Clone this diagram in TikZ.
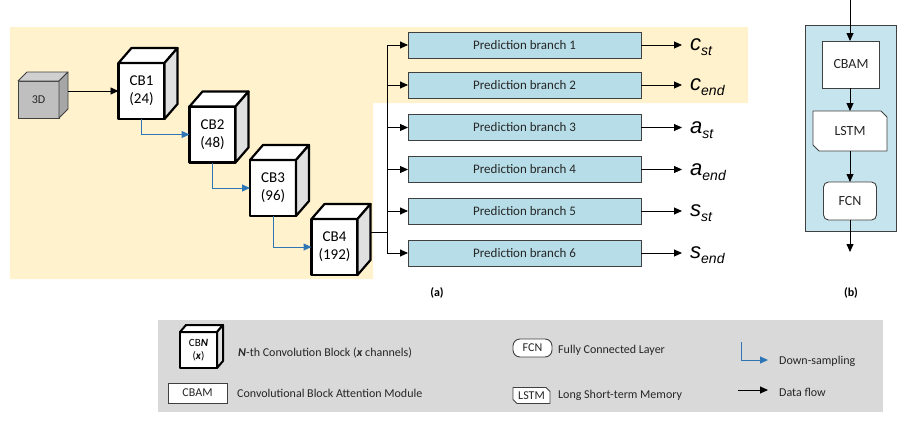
\documentclass[tikz,border=0pt]{standalone}
\usepackage{fontspec}
\setmainfont{Carlito}
\newfontfamily\arialf{Liberation Sans}
\usetikzlibrary{arrows.meta}
\definecolor{bgyellow}{HTML}{FFF2CC}
\definecolor{pbblue}{HTML}{B7DEE8}
\definecolor{panelblue}{HTML}{C6E4EE}
\definecolor{legendgray}{HTML}{D9D9D9}
\definecolor{dsblue}{HTML}{2E75B6}
\definecolor{edgegray}{HTML}{404040}
\definecolor{cubeside}{HTML}{E0E0E0}
\definecolor{graytop}{HTML}{D0D0D0}
\definecolor{grayfront}{HTML}{BFBFBF}
\definecolor{grayside}{HTML}{A6A6A6}
\definecolor{txtgray}{HTML}{262626}
% cube faces: #1 node, #2 dx, #3 dy (up), #4 style, #5 top fill, #6 side fill
\newcommand\cubefaces[6]{%
  \draw[#4,fill=#5] (#1.north west) -- ++(#2,-#3) -- ([shift={(#2,-#3)}]#1.north east) -- (#1.north east) -- cycle;
  \draw[#4,fill=#6] (#1.north east) -- ++(#2,-#3) -- ([shift={(#2,-#3)}]#1.south east) -- (#1.south east) -- cycle;}
% outline with cut corners (top right, bottom left): #1 node, #2 cut size
\newcommand\cutoutline[2]{%
  \draw[draw=edgegray,line width=0.9pt,fill=white,line join=round]
    (#1.north west) -- ([xshift=-#2]#1.north east) -- ([yshift=-#2]#1.north east) -- (#1.south east)
    -- ([xshift=#2]#1.south west) -- ([yshift=#2]#1.south west) -- cycle;}
\newcommand\lsub[1]{\raisebox{-5pt}{\fontsize{14}{14}\selectfont #1}}
\begin{document}
\begin{tikzpicture}[x=1pt,y=-1pt,
  cbbox/.style={draw=black,line width=2.2pt,fill=white,minimum width=46pt,minimum height=56pt,
    inner sep=0pt,outer sep=0pt,align=center,font=\fontsize{15}{18}\selectfont,line join=round},
  cbedge/.style={draw=black,line width=2.2pt,line join=round},
  graycube/.style={draw=edgegray,line width=0.8pt,fill=grayfront,minimum width=41pt,minimum height=37pt,
    inner sep=0pt,outer sep=0pt,font=\fontsize{12}{14}\selectfont,text=txtgray},
  grayedge/.style={draw=edgegray,line width=0.8pt,line join=round},
  pbbox/.style={draw=edgegray,line width=1pt,fill=pbblue,minimum width=233pt,minimum height=26pt,
    inner sep=0pt,outer sep=0pt,font=\fontsize{13}{15}\selectfont,text=txtgray},
  flow/.style={draw=black,line width=0.9pt,-{Triangle[length=8pt,width=7pt]}},
  dsflow/.style={draw=dsblue,line width=1pt,-{Triangle[length=8pt,width=7pt]}},
  outlab/.style={anchor=base west,inner xsep=8pt,inner ysep=0pt,font=\arialf\itshape\fontsize{22}{22}\selectfont},
  whitebox/.style={draw=edgegray,line width=0.9pt,fill=white,inner sep=0pt,outer sep=0pt,text=txtgray},
  cutbox/.style={inner sep=0pt,outer sep=0pt,text=txtgray},
  captxt/.style={font=\bfseries\fontsize{12}{14}\selectfont},
  legtext/.style={anchor=west,inner sep=0pt,font=\fontsize{12}{14}\selectfont,text=txtgray},
]
\useasboundingbox (0,0) rectangle (907,426);
% background regions
\fill[bgyellow] (10,27) -- (748,27) -- (748,103) -- (373,103) -- (373,279) -- (10,279) -- cycle;
\fill[legendgray] (158,320) rectangle (883,412);

% input cube
\node[graycube] (in3d) at (38.5,99.5) {3D};
\cubefaces{in3d}{9}{9}{grayedge}{graytop}{grayside}

% convolution blocks
\node[cbbox] (cb1) at (141.5,91) {CB1\\(24)};
\cubefaces{cb1}{13}{15}{cbedge}{white}{cubeside}
\node[cbbox] (cb2) at (212.5,134.5) {CB2\\(48)};
\cubefaces{cb2}{13}{15}{cbedge}{white}{cubeside}
\node[cbbox] (cb3) at (273,188) {CB3\\(96)};
\cubefaces{cb3}{13}{15}{cbedge}{white}{cubeside}
\node[cbbox] (cb4) at (334.5,247) {CB4\\(192)};
\cubefaces{cb4}{13}{15}{cbedge}{white}{cubeside}

\draw[flow] ([xshift=9pt]in3d.east |- cb1.west) -- (cb1.west);
\draw[dsflow] (cb1.south) |- (cb2.west);
\draw[dsflow] (cb2.south) |- (cb3.west);
\draw[dsflow] (cb3.south) |- (cb4.west);

% prediction branches
\node[pbbox] (pb1) at (524.5,45) {Prediction branch 1};
\node[pbbox] (pb2) at (524.5,85) {Prediction branch 2};
\node[pbbox] (pb3) at (524.5,127.5) {Prediction branch 3};
\node[pbbox] (pb4) at (524.5,169.5) {Prediction branch 4};
\node[pbbox] (pb5) at (524.5,211) {Prediction branch 5};
\node[pbbox] (pb6) at (524.5,253) {Prediction branch 6};

\coordinate (jn) at (387,232);
\draw[line width=0.9pt] ([shift={(13,-15)}]cb4.east) -- (jn);
\foreach \i in {1,...,6}{\draw[flow] (jn) |- (pb\i.west);}

\node[outlab] (o1) at (682,50.5) {c\lsub{st}};
\node[outlab] (o2) at (682,90.5) {c\lsub{end}};
\node[outlab] (o3) at (682,133) {a\lsub{st}};
\node[outlab] (o4) at (682,175) {a\lsub{end}};
\node[outlab] (o5) at (682,216.5) {s\lsub{st}};
\node[outlab] (o6) at (682,258.5) {s\lsub{end}};
\foreach \i in {1,...,6}{\draw[flow] (pb\i.east) -- (pb\i.east -| o\i.west);}

\node[captxt] (capa) at (437,293) {(a)};

% panel (b)
\node[draw=edgegray,line width=0.9pt,fill=panelblue,minimum width=91pt,minimum height=206pt,inner sep=0pt] (panel) at (850.5,128) {};
\node[whitebox,minimum width=57pt,minimum height=47pt,font=\fontsize{14}{16}\selectfont] (cbam) at (851,64.5) {CBAM};
\node[cutbox,minimum width=74pt,minimum height=40pt] (lstm) at (850,131) {};
\cutoutline{lstm}{6pt}
\node[text=txtgray,font=\fontsize{14}{16}\selectfont] at (lstm) {LSTM};
\node[whitebox,rounded corners=5pt,minimum width=53pt,minimum height=38pt,font=\fontsize{14}{16}\selectfont] (fcn) at (850,201) {FCN};
\coordinate (bin) at (850,0);
\coordinate (bout) at (850,252);
\draw[flow] (bin) -- (bin |- cbam.north);
\draw[flow] (cbam.south -| lstm.north) -- (lstm.north);
\draw[flow] (lstm.south) -- (fcn.north);
\draw[flow] (fcn.south) -- (bout);
\node[captxt] (capb) at (851,293) {(b)};

% legend
\node[cbbox,minimum width=37pt,minimum height=36pt,line width=2pt,font=\fontsize{11}{13}\selectfont] (lcb) at (198.5,350) {CB\textbf{\textit{N}}\\(\textbf{\textit{x}})};
\cubefaces{lcb}{6}{7}{cbedge,line width=2pt}{white}{cubeside}
\node[legtext] (tcb) at (238,353) {\textbf{\textit{N}}-th Convolution Block (\textbf{\textit{x}} channels)};
\node[whitebox,minimum width=59pt,minimum height=20pt,font=\fontsize{12}{14}\selectfont] (lcbam) at (197.5,393) {CBAM};
\node[legtext] (tcbam) at (237,393) {Convolutional Block Attention Module};
\node[whitebox,rounded corners=7pt,minimum width=39pt,minimum height=18pt,font=\fontsize{12}{14}\selectfont] (lfcn) at (532.5,348) {FCN};
\node[legtext] (tfcn) at (558,350) {Fully Connected Layer};
\node[cutbox,minimum width=37pt,minimum height=16pt] (llstm) at (531.5,395.5) {};
\cutoutline{llstm}{4pt}
\node[text=txtgray,font=\fontsize{12}{14}\selectfont] at (llstm) {LSTM};
\node[legtext] (tlstm) at (558,395) {Long Short-term Memory};
\coordinate (ds1) at (741,342);
\coordinate (ds2) at (768,360);
\draw[dsflow] (ds1) |- (ds2);
\node[legtext] (tds) at (779,361) {Down-sampling};
\coordinate (df1) at (738,390);
\coordinate (df2) at (768,390);
\draw[flow] (df1) -- (df2);
\node[legtext] (tdf) at (779,392) {Data flow};
\end{tikzpicture}
\end{document}
